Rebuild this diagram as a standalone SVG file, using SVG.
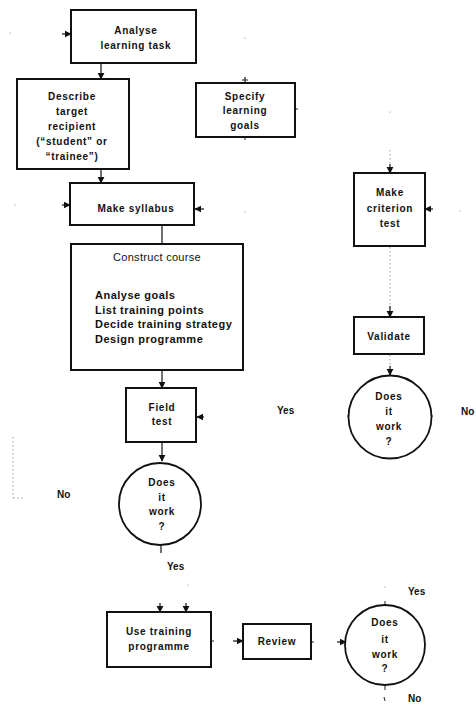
<svg xmlns="http://www.w3.org/2000/svg" width="476" height="705" viewBox="0 0 476 705">
  <style>
    .box { fill: #fff; stroke: #111; stroke-width: 2; }
    .dec { fill: #fff; stroke: #111; stroke-width: 1.8; }
    .t { font-family: "Liberation Sans", Arial, sans-serif; font-weight: bold; font-size: 10px; letter-spacing: 0.7px; fill: #111; text-anchor: middle; }
    .lbl { font-family: "Liberation Sans", Arial, sans-serif; font-weight: bold; font-size: 10px; fill: #111; }
    .big { font-family: "Liberation Sans", Arial, sans-serif; font-size: 11px; letter-spacing: 0.3px; fill: #111; }
    .list { font-family: "Liberation Sans", Arial, sans-serif; font-weight: bold; font-size: 11px; letter-spacing: 0.5px; fill: #111; }
    .c { stroke: #111; stroke-width: 1.2; fill: none; }
    .faint { stroke: #888; stroke-width: 0.8; fill: none; stroke-dasharray: 1.5 2.5; }
    .tick { stroke: #222; stroke-width: 1; }
    .dot { fill: #777; }
  </style>
  <defs>
    <marker id="ah" viewBox="0 0 10 10" refX="9" refY="5" markerWidth="6" markerHeight="6" orient="auto">
      <path d="M0,0 L10,5 L0,10 z" fill="#111"/>
    </marker>
  </defs>

  <g id="connectors">
    <!-- into "Analyse learning task" -->
    <line class="c" x1="62" y1="34" x2="71" y2="34" marker-end="url(#ah)"/>
    <circle class="dot" cx="10" cy="33" r="0.6"/>
    <!-- Analyse -> Describe -->
    <line class="c" x1="101" y1="64" x2="101" y2="79" marker-end="url(#ah)"/>
    <!-- Specify stubs -->
    <circle class="dot" cx="245" cy="38" r="0.6"/>
    <line class="c" x1="245" y1="77" x2="245" y2="83"/>
    <line class="tick" x1="242" y1="80" x2="248" y2="80"/>
    <line class="tick" x1="295" y1="109" x2="298" y2="109"/>
    <line class="tick" x1="245" y1="137" x2="245" y2="140"/>
    <!-- Describe -> Make syllabus -->
    <line class="c" x1="101" y1="170" x2="101" y2="183" marker-end="url(#ah)"/>
    <!-- side inputs to Make syllabus -->
    <circle class="dot" cx="15" cy="205" r="0.6"/>
    <line class="c" x1="62" y1="205" x2="70" y2="205" marker-end="url(#ah)"/>
    <line class="c" x1="204" y1="209" x2="195" y2="209" marker-end="url(#ah)"/>
    <circle class="dot" cx="245" cy="212" r="0.6"/>
    <!-- Make syllabus -> Construct course -->
    <line class="c" x1="162" y1="226" x2="162" y2="244"/>
    <!-- Construct course -> Field test -->
    <line class="c" x1="162" y1="371" x2="162" y2="388" marker-end="url(#ah)"/>
    <!-- into Field test from the right -->
    <line class="c" x1="204" y1="417" x2="197" y2="417" marker-end="url(#ah)"/>
    <!-- Field test -> decision -->
    <line class="c" x1="162" y1="443" x2="162" y2="461" marker-end="url(#ah)"/>
    <!-- "No" branch remnant -->
    <line class="faint" x1="13" y1="437" x2="13" y2="498"/>
    <line class="faint" x1="13" y1="498" x2="24" y2="498"/>
    <line class="tick" x1="118" y1="503" x2="121" y2="503"/>
    <line class="c" x1="161" y1="546" x2="161" y2="553"/>
    <!-- criterion test chain -->
    <circle class="dot" cx="390" cy="112" r="0.6"/>
    <line class="faint" x1="390" y1="150" x2="390" y2="166"/>
    <line class="c" x1="390" y1="164" x2="390" y2="173" marker-end="url(#ah)"/>
    <line class="c" x1="433" y1="209" x2="425" y2="209" marker-end="url(#ah)"/>
    <circle class="dot" cx="460" cy="211" r="0.6"/>
    <line class="faint" x1="390" y1="247" x2="390" y2="308"/>
    <line class="c" x1="390" y1="306" x2="390" y2="317" marker-end="url(#ah)"/>
    <line class="faint" x1="390" y1="355" x2="390" y2="366"/>
    <line class="c" x1="390" y1="366" x2="390" y2="375" marker-end="url(#ah)"/>
    <line class="tick" x1="347" y1="416" x2="350" y2="416"/>
    <line class="tick" x1="430" y1="416" x2="433" y2="416"/>
    <!-- into Use training programme -->
    <circle class="dot" cx="188" cy="585" r="0.6"/>
    <line class="c" x1="160" y1="603" x2="160" y2="612" marker-end="url(#ah)"/>
    <line class="c" x1="186" y1="603" x2="186" y2="612" marker-end="url(#ah)"/>
    <!-- Use training -> Review -> decision -->
    <line class="tick" x1="211" y1="641" x2="214" y2="641"/>
    <line class="c" x1="233" y1="641" x2="243" y2="641" marker-end="url(#ah)"/>
    <line class="tick" x1="311" y1="642" x2="314" y2="642"/>
    <line class="c" x1="337" y1="642" x2="346" y2="642" marker-end="url(#ah)"/>
    <circle class="dot" cx="385" cy="587" r="0.6"/>
    <line class="tick" x1="385" y1="601" x2="385" y2="605"/>
    <line class="tick" x1="385" y1="685" x2="385" y2="690"/>
    <line class="tick" x1="384" y1="697" x2="385" y2="701"/>
  </g>

  <g id="analyse-task">
    <rect class="box" x="71" y="10" width="125" height="53"/>
    <text class="t" x="136" y="34">Analyse</text>
    <text class="t" x="136" y="49">learning task</text>
  </g>

  <g id="describe-recipient">
    <rect class="box" x="17" y="79" width="112" height="90"/>
    <text class="t" x="72" y="100">Describe</text>
    <text class="t" x="72" y="115">target</text>
    <text class="t" x="72" y="130">recipient</text>
    <text class="t" x="72" y="145">(“student” or</text>
    <text class="t" x="72" y="160">“trainee”)</text>
  </g>

  <g id="specify-goals">
    <rect class="box" x="196" y="83" width="99" height="54"/>
    <text class="t" x="245" y="100">Specify</text>
    <text class="t" x="245" y="114">learning</text>
    <text class="t" x="245" y="129">goals</text>
  </g>

  <g id="make-syllabus">
    <rect class="box" x="70" y="183" width="124" height="42"/>
    <text class="t" x="136" y="212">Make syllabus</text>
  </g>

  <g id="construct-course">
    <rect class="box" x="71" y="244" width="172" height="126"/>
    <text class="big" x="157" y="261" text-anchor="middle">Construct course</text>
    <text class="list" x="95" y="299">Analyse goals</text>
    <text class="list" x="95" y="314">List training points</text>
    <text class="list" x="95" y="328">Decide training strategy</text>
    <text class="list" x="95" y="343">Design programme</text>
  </g>

  <g id="field-test">
    <rect class="box" x="126" y="388" width="70" height="54"/>
    <text class="t" x="162" y="411">Field</text>
    <text class="t" x="162" y="425">test</text>
  </g>

  <g id="works-1">
    <circle class="dec" cx="160" cy="504" r="41"/>
    <text class="t" x="162" y="486">Does</text>
    <text class="t" x="162" y="501">it</text>
    <text class="t" x="162" y="515">work</text>
    <text class="t" x="162" y="530">?</text>
    <text class="lbl" x="57" y="498">No</text>
    <text class="lbl" x="167" y="570">Yes</text>
  </g>

  <g id="criterion-test">
    <rect class="box" x="354" y="173" width="71" height="73"/>
    <text class="t" x="390" y="196">Make</text>
    <text class="t" x="390" y="212">criterion</text>
    <text class="t" x="390" y="227">test</text>
  </g>

  <g id="validate">
    <rect class="box" x="354" y="317" width="70" height="37"/>
    <text class="t" x="389" y="340">Validate</text>
  </g>

  <g id="works-2">
    <circle class="dec" cx="390" cy="417" r="41.5"/>
    <text class="t" x="389" y="400">Does</text>
    <text class="t" x="389" y="415">it</text>
    <text class="t" x="389" y="430">work</text>
    <text class="t" x="389" y="445">?</text>
    <text class="lbl" x="277" y="414">Yes</text>
    <text class="lbl" x="461" y="415">No</text>
  </g>

  <g id="use-programme">
    <rect class="box" x="107" y="612" width="104" height="55"/>
    <text class="t" x="159" y="635">Use training</text>
    <text class="t" x="159" y="650">programme</text>
  </g>

  <g id="review">
    <rect class="box" x="243" y="624" width="68" height="35"/>
    <text class="t" x="277" y="645">Review</text>
  </g>

  <g id="works-3">
    <circle class="dec" cx="385" cy="645" r="40"/>
    <text class="t" x="385" y="626">Does</text>
    <text class="t" x="385" y="643">it</text>
    <text class="t" x="385" y="658">work</text>
    <text class="t" x="385" y="672">?</text>
    <text class="lbl" x="408" y="595">Yes</text>
    <text class="lbl" x="408" y="702">No</text>
  </g>
</svg>
